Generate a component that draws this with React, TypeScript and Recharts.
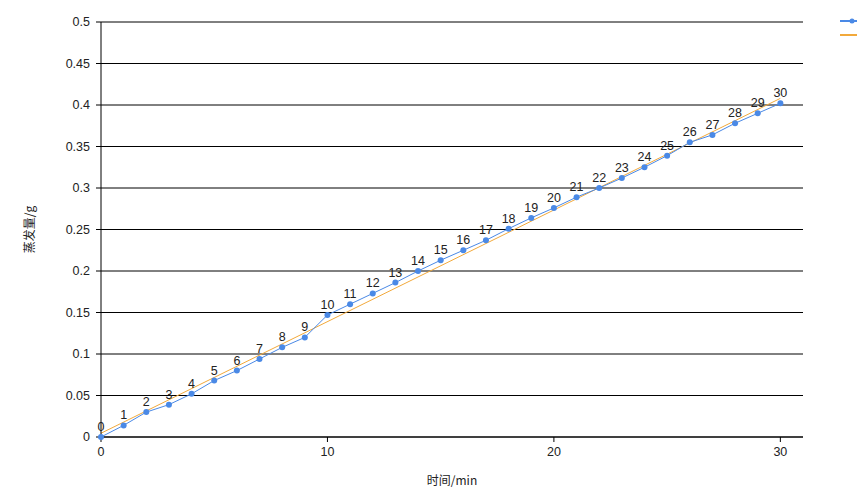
import { LineChart, Line, XAxis, YAxis, CartesianGrid, LabelList } from "recharts";

// time (min) and measured evaporation (g)
const minutes = [0, 1, 2, 3, 4, 5, 6, 7, 8, 9, 10, 11, 12, 13, 14, 15, 16, 17, 18, 19, 20, 21, 22, 23, 24, 25, 26, 27, 28, 29, 30];
const evaporation = [
  0, 0.014, 0.030, 0.039, 0.052, 0.068, 0.080, 0.094, 0.108, 0.120,
  0.147, 0.160, 0.173, 0.186, 0.200, 0.213, 0.225, 0.237, 0.251, 0.264,
  0.276, 0.289, 0.300, 0.312, 0.325, 0.339, 0.355, 0.364, 0.378, 0.390, 0.402,
];

// linear trend line, read at both ends
const trendX = [0, 30];
const trendY = [0.0045, 0.408];

const xTicks = [0, 10, 20, 30];
const yTicks = [0, 0.05, 0.1, 0.15, 0.2, 0.25, 0.3, 0.35, 0.4, 0.45, 0.5];

const BLUE = "#4a89e6";
const ORANGE = "#f2a93b";
const FONT = "'Liberation Sans', Arial, sans-serif";
const CJK = "'Noto Sans CJK SC', sans-serif";

const measured = minutes.map((t, i) => ({ t, v: evaporation[i] }));
const trend = trendX.map((t, i) => ({ t, v: trendY[i] }));

function fmt(v: number) {
  return String(Math.round(v * 100) / 100);
}

// legend is cut off at the right edge of the picture, only the swatches show
function LegendIcons() {
  return (
    <svg width={20} height={30} style={{ position: "absolute", left: 839, top: 14 }}>
      <line x1={1} y1={7} x2={20} y2={7} stroke={BLUE} strokeWidth={2} />
      <circle cx={13} cy={7} r={2.5} fill={BLUE} />
      <line x1={1} y1={21} x2={20} y2={21} stroke={ORANGE} strokeWidth={2} />
    </svg>
  );
}

export default function App() {
  return (
    <div style={{ position: "absolute", left: 0, top: 0, width: 857, height: 489, fontFamily: FONT }}>
      <LineChart width={857} height={489} margin={{ top: 22, right: 54, bottom: 0, left: 0 }}>
        <CartesianGrid horizontal vertical={false} stroke="#000" strokeOpacity={1} />
        <XAxis
          type="number"
          dataKey="t"
          domain={[0, 31]}
          ticks={xTicks}
          height={52}
          tickSize={5}
          tickMargin={5}
          stroke="#000"
          tick={{ fill: "#222", fontSize: 12.5, fontFamily: FONT }}
          label={{ value: "时间/min", position: "insideBottom", offset: 4, fill: "#222", fontSize: 12, fontFamily: CJK }}
        />
        <YAxis
          type="number"
          domain={[0, 0.5]}
          ticks={yTicks}
          width={101}
          tickSize={5}
          tickMargin={6}
          stroke="#000"
          tickFormatter={fmt}
          tick={{ fill: "#222", fontSize: 12.5, fontFamily: FONT }}
          label={{ value: "蒸发量/g", angle: -90, position: "insideLeft", offset: 30, fill: "#222", fontSize: 12, fontFamily: CJK, style: { textAnchor: "middle" } }}
        />
        <Line
          data={trend}
          dataKey="v"
          type="linear"
          stroke={ORANGE}
          strokeWidth={1}
          dot={false}
          isAnimationActive={false}
        />
        <Line
          data={measured}
          dataKey="v"
          type="linear"
          stroke={BLUE}
          strokeWidth={1}
          dot={{ r: 3, fill: BLUE, stroke: "none" }}
          isAnimationActive={false}
        >
          <LabelList dataKey="t" position="top" offset={6} fill="#222" fontSize={12.5} fontFamily={FONT} />
        </Line>
      </LineChart>
      <LegendIcons />
    </div>
  );
}
